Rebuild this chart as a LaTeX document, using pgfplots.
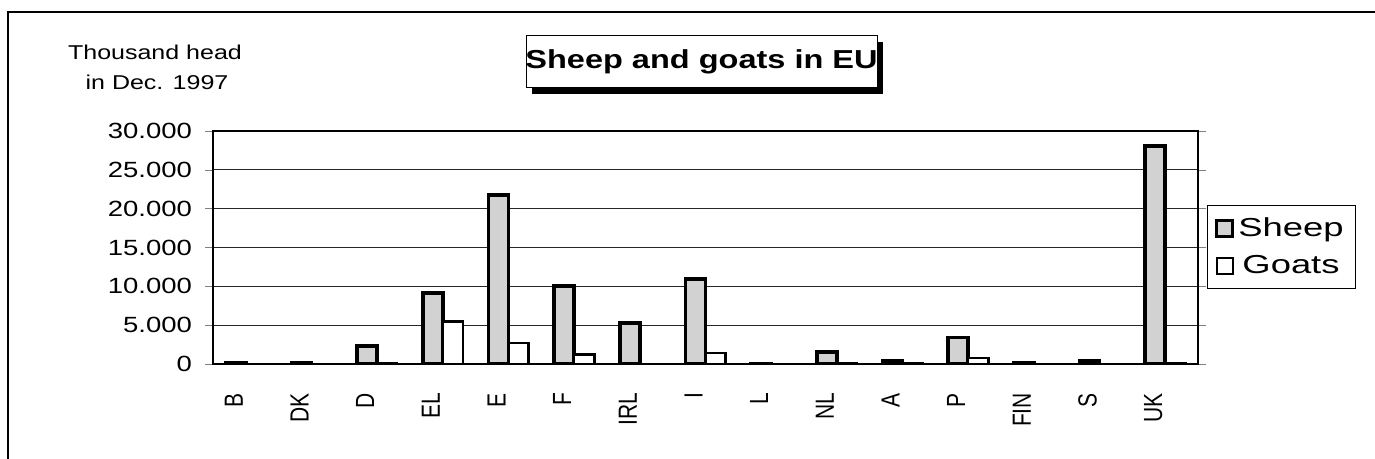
\documentclass[border=0pt]{standalone}
\usepackage{fontspec}
\setmainfont{Liberation Sans}
\usepackage{pgfplots}
\pgfplotsset{compat=1.18}
\newcommand\sx[1]{\scalebox{1.25}[1]{#1}}
\newcommand\sxl[1]{\scalebox{1.4}[1]{#1}}
\newcommand\sv[1]{\scalebox{1}[1.25]{#1}}
\begin{document}
\begin{tikzpicture}[x=0.5pt,y=0.5pt]
\useasboundingbox (0,0) rectangle (1375,459);
\draw[line width=1pt] (8,-10) -- (8,447) -- (1385,447);
% title box with shadow
\fill[black] (532,365) rectangle (883,417);
\draw[fill=white, line width=0.5pt] (526,371) rectangle (877,423);
\node[font=\fontsize{13}{15}\selectfont\bfseries] at (701.5,397) {\sx{Sheep and goats in EU}};
\node[font=\fontsize{10}{12}\selectfont] at (155,407) {\sx{Thousand head}};
\node[font=\fontsize{10}{12}\selectfont] at (157,377) {\sx{in Dec. 1997}};
\begin{axis}[
  at={(106.5pt,47.5pt)}, anchor=south west, scale only axis,
  width=492.5pt, height=116.5pt,
  xmin=-0.5, xmax=14.5, ymin=0, ymax=30000,
  ytick={0,5000,10000,15000,20000,25000,30000},
  xtick={0,...,14},
  xticklabels={\sv{B},\sv{DK},\sv{D},\sv{EL},\sv{E},\sv{F},\sv{IRL},\sv{I},\sv{L},\sv{NL},\sv{A},\sv{P},\sv{FIN},\sv{S},\sv{UK}},
  xtick style={draw=none},
  ymajorgrids, major grid style={black!85, line width=0.6pt},
  tick align=outside, major tick length=4pt,
  scaled y ticks=false,
  /pgf/number format/1000 sep={.},
  /pgf/number format/assume math mode=true,
  yticklabel={\sx{\pgfmathprintnumber{\tick}}},
  ticklabel style={font=\fontsize{11}{13}\selectfont},
  yticklabel style={xshift=-3pt},
  xticklabel style={xshift=-6pt, yshift=-7pt, rotate=90, anchor=east, font=\fontsize{10.5}{12}\selectfont},
  axis line style={line width=1pt},
  ybar, bar width=0.305,
  legend style={at={(1.009,0.682)}, anchor=north west, draw=black, line width=0.5pt,
    font=\fontsize{13}{15}\selectfont, row sep=4pt, inner xsep=4pt, inner ysep=4pt},
]
\addplot[fill=gray!35, draw=black, line width=1.9pt, bar shift=-0.1525,
  legend image code/.code={\draw[fill=gray!35,draw=black,line width=1.5pt] (0pt,-4pt) rectangle (8pt,4pt);}]
  coordinates {(0,150) (1,100) (2,2300) (3,9100) (4,21800) (5,10000) (6,5300) (7,10900) (8,8) (9,1500) (10,380) (11,3400) (12,120) (13,440) (14,28100)};
\addlegendentry{\sxl{Sheep}}
\addplot[fill=white, draw=black, line width=1.3pt, bar shift=0.1525,
  legend image code/.code={\draw[fill=white,draw=black,line width=1.3pt] (0pt,-4pt) rectangle (8pt,4pt);}]
  coordinates {(0,10) (1,0) (2,100) (3,5500) (4,2700) (5,1200) (6,10) (7,1400) (8,0) (9,100) (10,60) (11,750) (12,0) (13,0) (14,50)};
\addlegendentry{\sxl{Goats}}
\end{axis}
\end{tikzpicture}
\end{document}
